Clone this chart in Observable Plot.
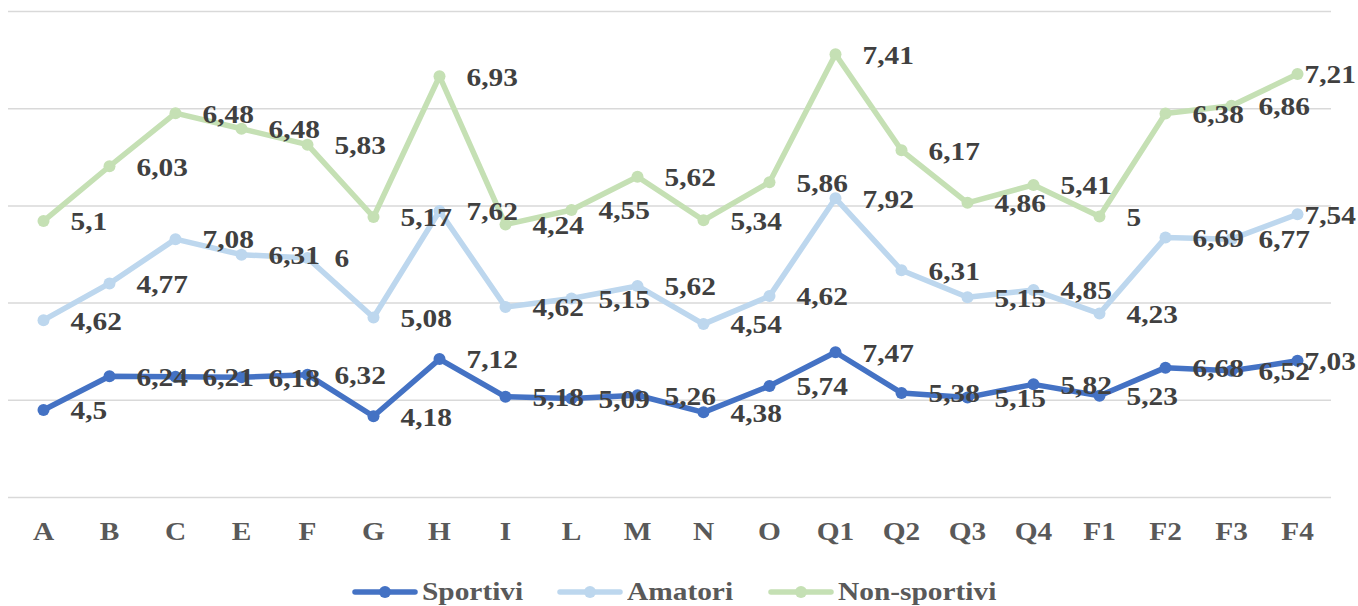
<!DOCTYPE html>
<html>
<head>
<meta charset="utf-8">
<script src="https://cdn.jsdelivr.net/npm/d3@7"></script>
<script src="https://cdn.jsdelivr.net/npm/@observablehq/plot@0.6"></script>
<style>
  html, body { margin: 0; padding: 0; background: #ffffff; }
  body { width: 1358px; height: 606px; overflow: hidden; font-family: "Liberation Serif", "Times New Roman", serif; }
  #chart svg { display: block; }
  #legend { display: flex; justify-content: center; align-items: center; height: 46px; margin-top: 9px; margin-left: -10px;
            font-family: "Liberation Serif", "Times New Roman", serif; font-weight: bold; font-size: 26px; color: #595959; }
  .item { display: flex; align-items: center; margin: 0 17px; }
  .item svg { margin-right: 4px; }
  .item span { display: inline-block; transform-origin: 0 50%; }
</style>
</head>
<body>
<div id="chart"></div>
<div id="legend"></div>
<script>
const categories = ["A","B","C","E","F","G","H","I","L","M","N","O","Q1","Q2","Q3","Q4","F1","F2","F3","F4"];
const sportivi    = [4.5, 6.24, 6.21, 6.18, 6.32, 4.18, 7.12, 5.18, 5.09, 5.26, 4.38, 5.74, 7.47, 5.38, 5.15, 5.82, 5.23, 6.68, 6.52, 7.03];
const amatori     = [4.62, 4.77, 7.08, 6.31, 6, 5.08, 7.62, 4.62, 5.15, 5.62, 4.54, 4.62, 7.92, 6.31, 5.15, 4.85, 4.23, 6.69, 6.77, 7.54];
const nonSportivi = [5.1, 6.03, 6.48, 6.48, 5.83, 5.17, 6.93, 4.24, 4.55, 5.62, 5.34, 5.86, 7.41, 6.17, 4.86, 5.41, 5, 6.38, 6.86, 7.21];
const seriesNames  = ["Sportivi", "Amatori", "Non-sportivi"];
const seriesColors = ["#4472C4", "#BDD7EE", "#C5E0B4"];
const yTicks = [0, 5, 10, 15, 20, 25];

const FONT = "'Liberation Serif', 'Times New Roman', serif";
const STRETCH = 1.13; // the reference's text is slightly wider than regular Times

// Stacked line chart: each series sits on top of the previous ones
const seriesValues = [sportivi, amatori, nonSportivi];
const rows = [];
const cumul = categories.map(() => 0);
seriesValues.forEach((vals, s) => {
  vals.forEach((v, i) => {
    cumul[i] += v;
    rows.push({cat: categories[i], series: seriesNames[s], value: v, top: cumul[i],
               label: String(v).replace(".", ","), last: i === categories.length - 1});
  });
});

const chart = Plot.plot({
  width: 1358,
  height: 560,
  marginTop: 11,
  marginBottom: 63,
  marginLeft: 8,
  marginRight: 27,
  style: {fontFamily: FONT, fontSize: "26px", fontWeight: "bold", color: "#595959", background: "#ffffff", overflow: "visible"},
  x: {type: "point", domain: categories, padding: 0.5, label: null, tickSize: 0, tickPadding: 24},
  y: {domain: [0, 25], axis: null},
  color: {domain: seriesNames, range: seriesColors},
  marks: [
    Plot.ruleY(yTicks, {stroke: "#D9D9D9", strokeWidth: 1.5}),
    Plot.line(rows, {x: "cat", y: "top", z: "series", stroke: "series", strokeWidth: 5.5, strokeLinejoin: "round", strokeLinecap: "round"}),
    Plot.dot(rows, {x: "cat", y: "top", fill: "series", r: 6}),
    Plot.text(rows.filter(d => !d.last), {x: "cat", y: "top", text: "label", textAnchor: "start", dx: 27, dy: 1, fill: "#404040", fontSize: 26, fontWeight: "bold"}),
    Plot.text(rows.filter(d => d.last), {x: "cat", y: "top", text: "label", textAnchor: "start", dx: 7, dy: 1, fill: "#404040", fontSize: 26, fontWeight: "bold"})
  ]
});
document.getElementById("chart").appendChild(chart);

// widen every positioned text horizontally around its own anchor
chart.querySelectorAll("text").forEach(t => {
  const tr = t.getAttribute("transform");
  if (tr && !t.hasAttribute("x")) t.setAttribute("transform", `${tr} scale(${STRETCH},1)`);
});

// Legend (line + marker swatches)
const legend = d3.select("#legend");
seriesNames.forEach((name, i) => {
  const item = legend.append("div").attr("class", "item");
  const sw = item.append("svg").attr("width", 66).attr("height", 16);
  sw.append("line").attr("x1", 3).attr("x2", 63).attr("y1", 8).attr("y2", 8)
    .attr("stroke", seriesColors[i]).attr("stroke-width", 5.5).attr("stroke-linecap", "round");
  sw.append("circle").attr("cx", 33).attr("cy", 8).attr("r", 6).attr("fill", seriesColors[i]);
  const span = item.append("span").text(name).node();
  span.style.transform = `scaleX(${STRETCH})`;
  span.style.marginRight = (span.offsetWidth * (STRETCH - 1)) + "px";
});
</script>
</body>
</html>
